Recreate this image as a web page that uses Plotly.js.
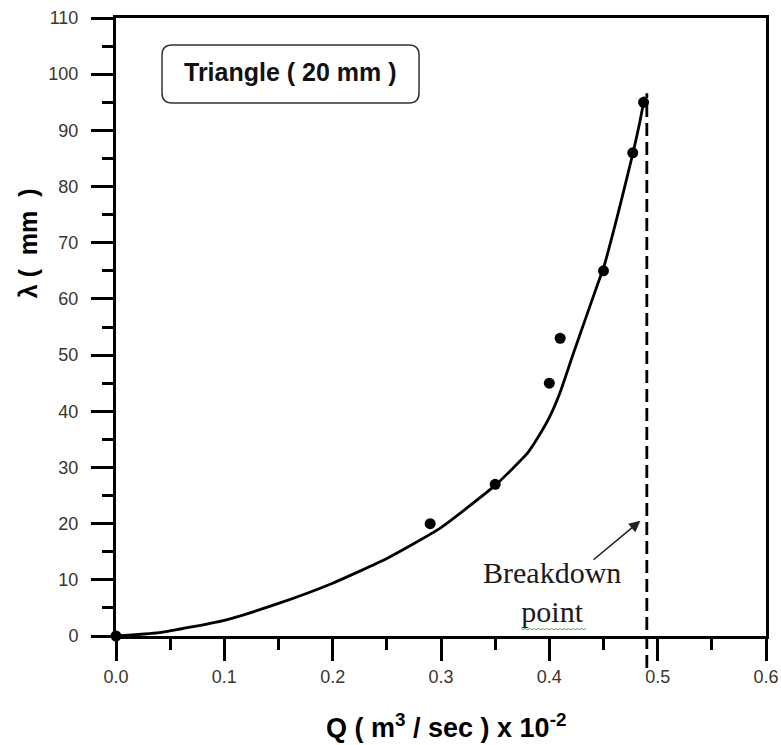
<!DOCTYPE html>
<html>
<head>
<meta charset="utf-8">
<script src="https://cdn.plot.ly/plotly-3.0.1.min.js"></script>
<style>
  html, body { margin: 0; padding: 0; background: #fff; }
  #chart { width: 781px; height: 745px; }
</style>
</head>
<body>
<div id="chart"></div>
<script>
// Measured points: Q (m3/sec x 10^-2) vs lambda (mm)
const qValues = [0, 0.29, 0.35, 0.40, 0.41, 0.45, 0.477, 0.487];
const lambdaValues = [0, 20, 27, 45, 53, 65, 86, 95];

// Fitted curve
const fitQ = [0, 0.04, 0.10, 0.15, 0.20, 0.25, 0.30, 0.35, 0.365, 0.38, 0.39, 0.40, 0.41, 0.422, 0.434, 0.444, 0.45, 0.4637, 0.4775, 0.483, 0.488];
const fitLambda = [0, 0.6, 2.8, 5.8, 9.4, 13.8, 19.3, 26.8, 29.6, 32.6, 35.5, 38.9, 43.4, 50.2, 56.8, 62.3, 65.5, 75.4, 86.2, 91.0, 96.0];

// Breakdown point
const breakdownQ = 0.49;
const breakdownTop = 96.6;
const breakdownBottom = -5.7;

const xRange = [0, 0.6];
const yRange = [0, 110];

const boxLabel = 'Triangle ( 20 mm )';
const xTitle = 'Q ( m<sup>3</sup> / sec ) x 10<sup>-2</sup>';
const yTitle = 'λ\u00A0(\u00A0\u00A0mm\u00A0\u00A0)';
const noteText = 'Breakdown<br>point';

const yPaper = v => (v - yRange[0]) / (yRange[1] - yRange[0]);

// rounded box in paper coords
const bx0 = 0.0708, bx1 = 0.4662, by0 = 0.8625, by1 = 0.9563, rx = 0.0154, ry = 0.0162;
const boxPath = `M ${bx0 + rx},${by1} L ${bx1 - rx},${by1} Q ${bx1},${by1} ${bx1},${by1 - ry} ` +
  `L ${bx1},${by0 + ry} Q ${bx1},${by0} ${bx1 - rx},${by0} L ${bx0 + rx},${by0} ` +
  `Q ${bx0},${by0} ${bx0},${by0 + ry} L ${bx0},${by1 - ry} Q ${bx0},${by1} ${bx0 + rx},${by1} Z`;

const traces = [
  {
    x: fitQ, y: fitLambda, type: 'scatter', mode: 'lines',
    line: { color: '#000', width: 2.8, shape: 'spline', smoothing: 0.5 },
    hoverinfo: 'skip', showlegend: false
  },
  {
    x: qValues, y: lambdaValues, type: 'scatter', mode: 'markers',
    marker: { color: '#000', size: 11, symbol: 'circle' },
    cliponaxis: false, showlegend: false
  }
];

const tickFont = { family: 'Liberation Sans, Arial, sans-serif', size: 18, color: '#3d3528' };

const layout = {
  width: 781, height: 745,
  margin: { l: 116, r: 15, t: 18, b: 109 },
  paper_bgcolor: '#fff', plot_bgcolor: '#fff',
  showlegend: false,
  xaxis: {
    range: xRange, dtick: 0.1, tick0: 0, tickformat: '.1f',
    ticks: 'outside', ticklen: 22, tickwidth: 3, tickcolor: '#000',
    minor: { dtick: 0.05, ticks: 'outside', ticklen: 11, tickwidth: 3, tickcolor: '#000', showgrid: false },
    showline: true, linecolor: '#000', linewidth: 3, mirror: true,
    showgrid: false, zeroline: false,
    tickfont: tickFont, ticklabelstandoff: 0, fixedrange: true
  },
  yaxis: {
    range: yRange, dtick: 10, tick0: 0,
    ticks: 'outside', ticklen: 22, tickwidth: 3, tickcolor: '#000',
    minor: { dtick: 5, ticks: 'outside', ticklen: 11, tickwidth: 3, tickcolor: '#000', showgrid: false },
    showline: true, linecolor: '#000', linewidth: 3, mirror: true,
    showgrid: false, zeroline: false,
    tickfont: tickFont, ticklabelstandoff: 9, fixedrange: true
  },
  shapes: [
    {
      type: 'line', xref: 'x', yref: 'paper',
      x0: breakdownQ, x1: breakdownQ, y0: yPaper(breakdownBottom), y1: yPaper(breakdownTop),
      line: { color: '#000', width: 2.8, dash: '13px,6px' }
    },
    {
      type: 'path', xref: 'paper', yref: 'paper', path: boxPath,
      line: { color: '#333', width: 1.5 }, fillcolor: 'rgba(0,0,0,0)'
    }
  ],
  annotations: [
    {
      text: '<b>' + boxLabel + '</b>', xref: 'paper', yref: 'paper',
      x: 0.2685, y: 0.9126, xanchor: 'center', yanchor: 'middle', showarrow: false,
      font: { family: 'Liberation Sans, Arial, sans-serif', size: 25, color: '#111' }
    },
    {
      text: '<b>' + xTitle + '</b>', xref: 'paper', yref: 'paper',
      x: 0.508, y: -0.1456, xanchor: 'center', yanchor: 'middle', showarrow: false,
      font: { family: 'Liberation Sans, Arial, sans-serif', size: 27, color: '#000' }
    },
    {
      text: '<b>' + yTitle + '</b>', xref: 'paper', yref: 'paper', textangle: -90,
      x: -0.135, y: 0.636, xanchor: 'center', yanchor: 'middle', showarrow: false,
      font: { family: 'Liberation Sans, Arial, sans-serif', size: 25, color: '#000' }
    },
    {
      text: noteText, xref: 'x', yref: 'y', x: 0.4025, y: 7.8,
      xanchor: 'center', yanchor: 'middle', showarrow: false, align: 'center',
      font: { family: 'Liberation Serif, Times New Roman, serif', size: 30, color: '#1a1a1a' }
    },
    {
      text: '', xref: 'x', yref: 'y', x: 0.484, y: 20.5,
      axref: 'x', ayref: 'y', ax: 0.4394, ay: 13.35,
      showarrow: true, arrowhead: 2, arrowsize: 1.4, arrowwidth: 1.6, arrowcolor: '#222'
    },
    {
      text: '﹏﹏﹏﹏﹏', xref: 'x', yref: 'y', x: 0.4035, y: 2.4,
      xanchor: 'center', yanchor: 'middle', showarrow: false,
      font: { family: 'Noto Sans CJK SC, sans-serif', size: 13, color: '#2e9e2e' }
    }
  ]
};

Plotly.newPlot('chart', traces, layout, { displayModeBar: false, staticPlot: true });
</script>
</body>
</html>
